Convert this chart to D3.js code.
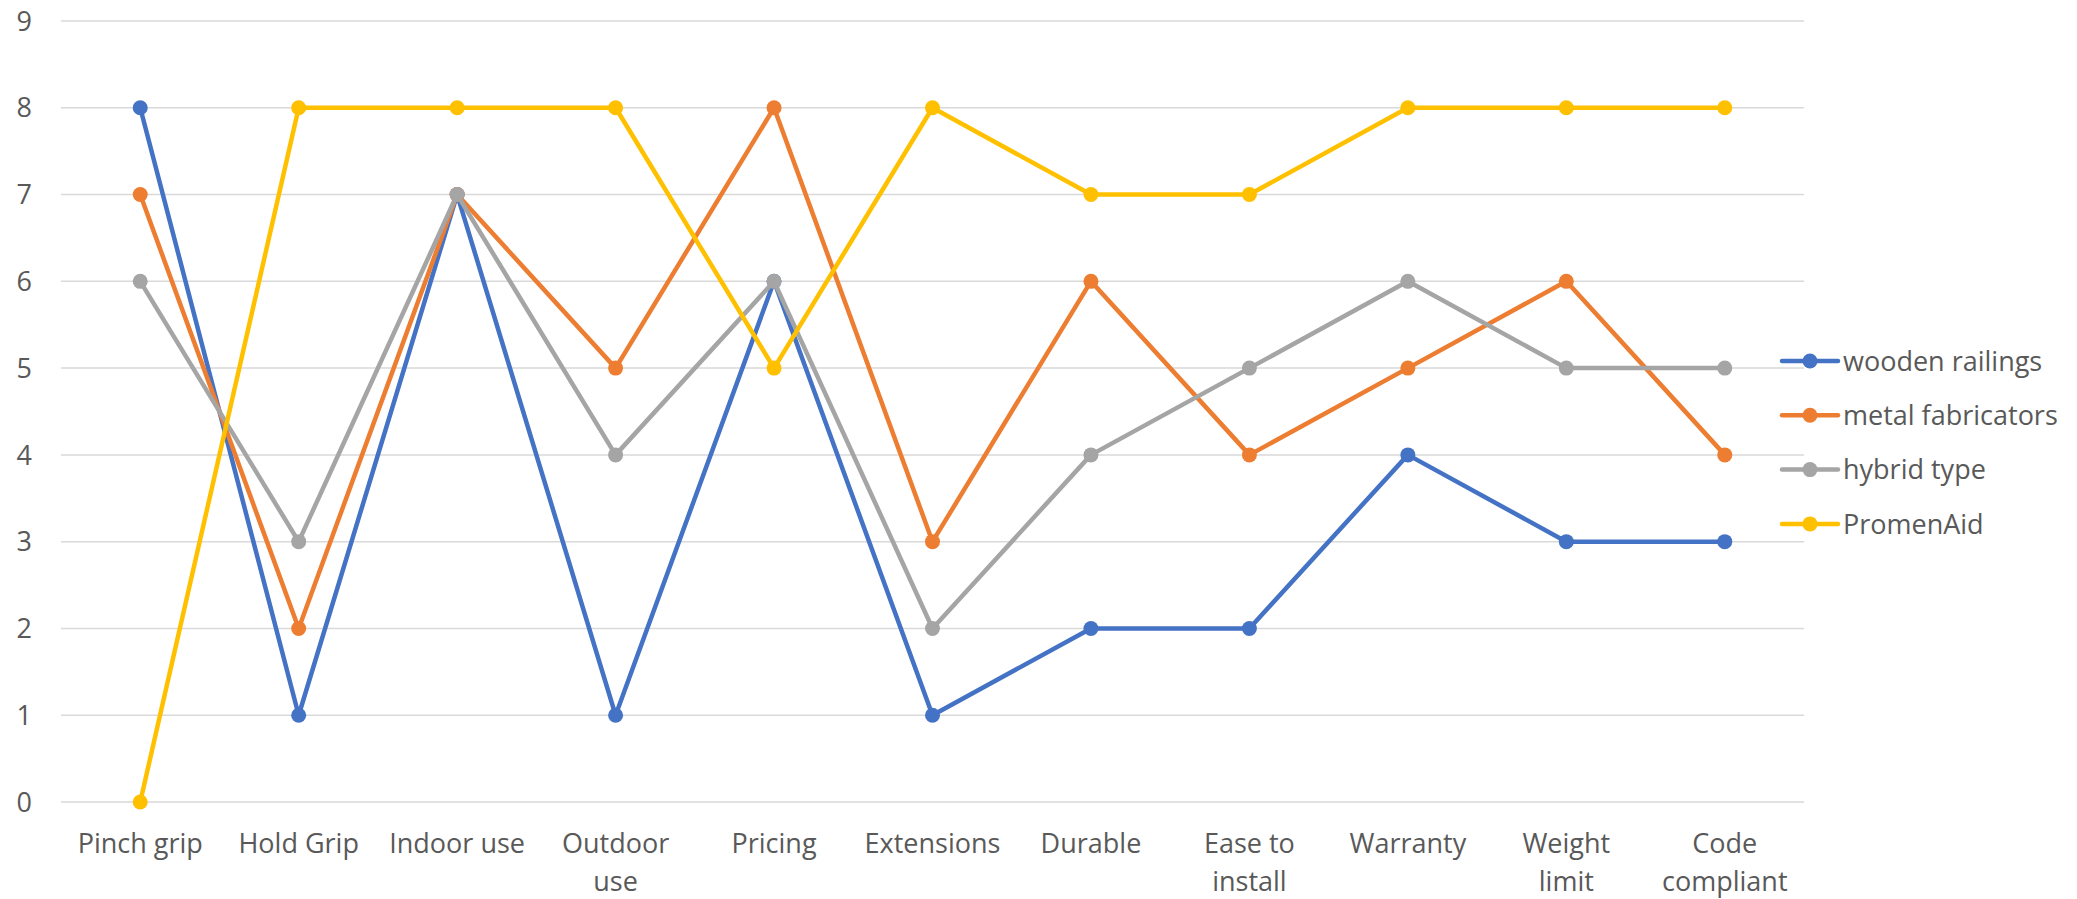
<!DOCTYPE html>
<html>
<head>
<meta charset="utf-8">
<script src="https://cdn.jsdelivr.net/npm/d3@7"></script>
<style>
  body { margin: 0; background: #fff; }
  svg text { font-family: "Open Sans", sans-serif; fill: #595959; }
</style>
</head>
<body>
<svg id="chart" width="2077" height="899"></svg>
<script>
var categories = ["Pinch grip", "Hold Grip", "Indoor use", "Outdoor use", "Pricing", "Extensions",
  "Durable", "Ease to install", "Warranty", "Weight limit", "Code compliant"]
var categoryLines = [["Pinch grip"], ["Hold Grip"], ["Indoor use"], ["Outdoor", "use"], ["Pricing"],
  ["Extensions"], ["Durable"], ["Ease to", "install"], ["Warranty"], ["Weight", "limit"], ["Code", "compliant"]]
var seriesNames = ["wooden railings", "metal fabricators", "hybrid type", "PromenAid"]
var wooden = [8, 1, 7, 1, 6, 1, 2, 2, 4, 3, 3]
var metal = [7, 2, 7, 5, 8, 3, 6, 4, 5, 6, 4]
var hybrid = [6, 3, 7, 4, 6, 2, 4, 5, 6, 5, 5]
var promenaid = [0, 8, 8, 8, 5, 8, 7, 7, 8, 8, 8]
var yTicks = [0, 1, 2, 3, 4, 5, 6, 7, 8, 9]

var colors = ["#4472C4", "#ED7D31", "#A5A5A5", "#FFC000"]
var allSeries = [wooden, metal, hybrid, promenaid]

var svg = d3.select("#chart")
var plotLeft = 61, plotRight = 1804, plotTop = 21, plotBottom = 802

var x = d3.scaleBand().domain(categories).range([plotLeft, plotRight])
var y = d3.scaleLinear().domain([0, 9]).range([plotBottom, plotTop])

// gridlines
svg.append("g").selectAll("line").data(yTicks).join("line")
  .attr("x1", plotLeft).attr("x2", plotRight)
  .attr("y1", d => y(d)).attr("y2", d => y(d))
  .attr("stroke", "#D9D9D9").attr("stroke-width", 1.5)

// y labels
svg.append("g").selectAll("text").data(yTicks).join("text")
  .attr("x", 32).attr("y", d => y(d))
  .attr("text-anchor", "end").attr("dy", "0.36em")
  .style("font-size", "27px")
  .text(d => d)

// x labels
var xl = svg.append("g").selectAll("text").data(categories).join("text")
  .attr("x", d => x(d) + x.bandwidth() / 2)
  .attr("y", 853)
  .attr("text-anchor", "middle")
  .style("font-size", "27px")
xl.each(function(d, i) {
  d3.select(this).selectAll("tspan").data(categoryLines[i]).join("tspan")
    .attr("x", x(d) + x.bandwidth() / 2)
    .attr("dy", (t, j) => j === 0 ? 0 : 38)
    .text(t => t)
})

// series
var line = d3.line()
  .x((d, i) => x(categories[i]) + x.bandwidth() / 2)
  .y(d => y(d))

allSeries.forEach(function(vals, s) {
  var g = svg.append("g")
  g.append("path").datum(vals)
    .attr("d", line)
    .attr("fill", "none")
    .attr("stroke", colors[s])
    .attr("stroke-width", 4.5)
    .attr("stroke-linejoin", "round")
  g.selectAll("circle").data(vals).join("circle")
    .attr("cx", (d, i) => x(categories[i]) + x.bandwidth() / 2)
    .attr("cy", d => y(d))
    .attr("r", 7.5)
    .attr("fill", colors[s])
})

// legend
var legend = svg.append("g").selectAll("g").data(seriesNames).join("g")
  .attr("transform", (d, i) => "translate(1782," + (361 + i * 54.3) + ")")
legend.append("line")
  .attr("x1", 0).attr("x2", 56).attr("y1", 0).attr("y2", 0)
  .attr("stroke", (d, i) => colors[i]).attr("stroke-width", 4.5)
  .attr("stroke-linecap", "round")
legend.append("circle")
  .attr("cx", 28).attr("cy", 0).attr("r", 7.5)
  .attr("fill", (d, i) => colors[i])
legend.append("text")
  .attr("x", 61).attr("y", 0).attr("dy", "0.36em")
  .style("font-size", "27px")
  .text(d => d)
</script>
</body>
</html>
